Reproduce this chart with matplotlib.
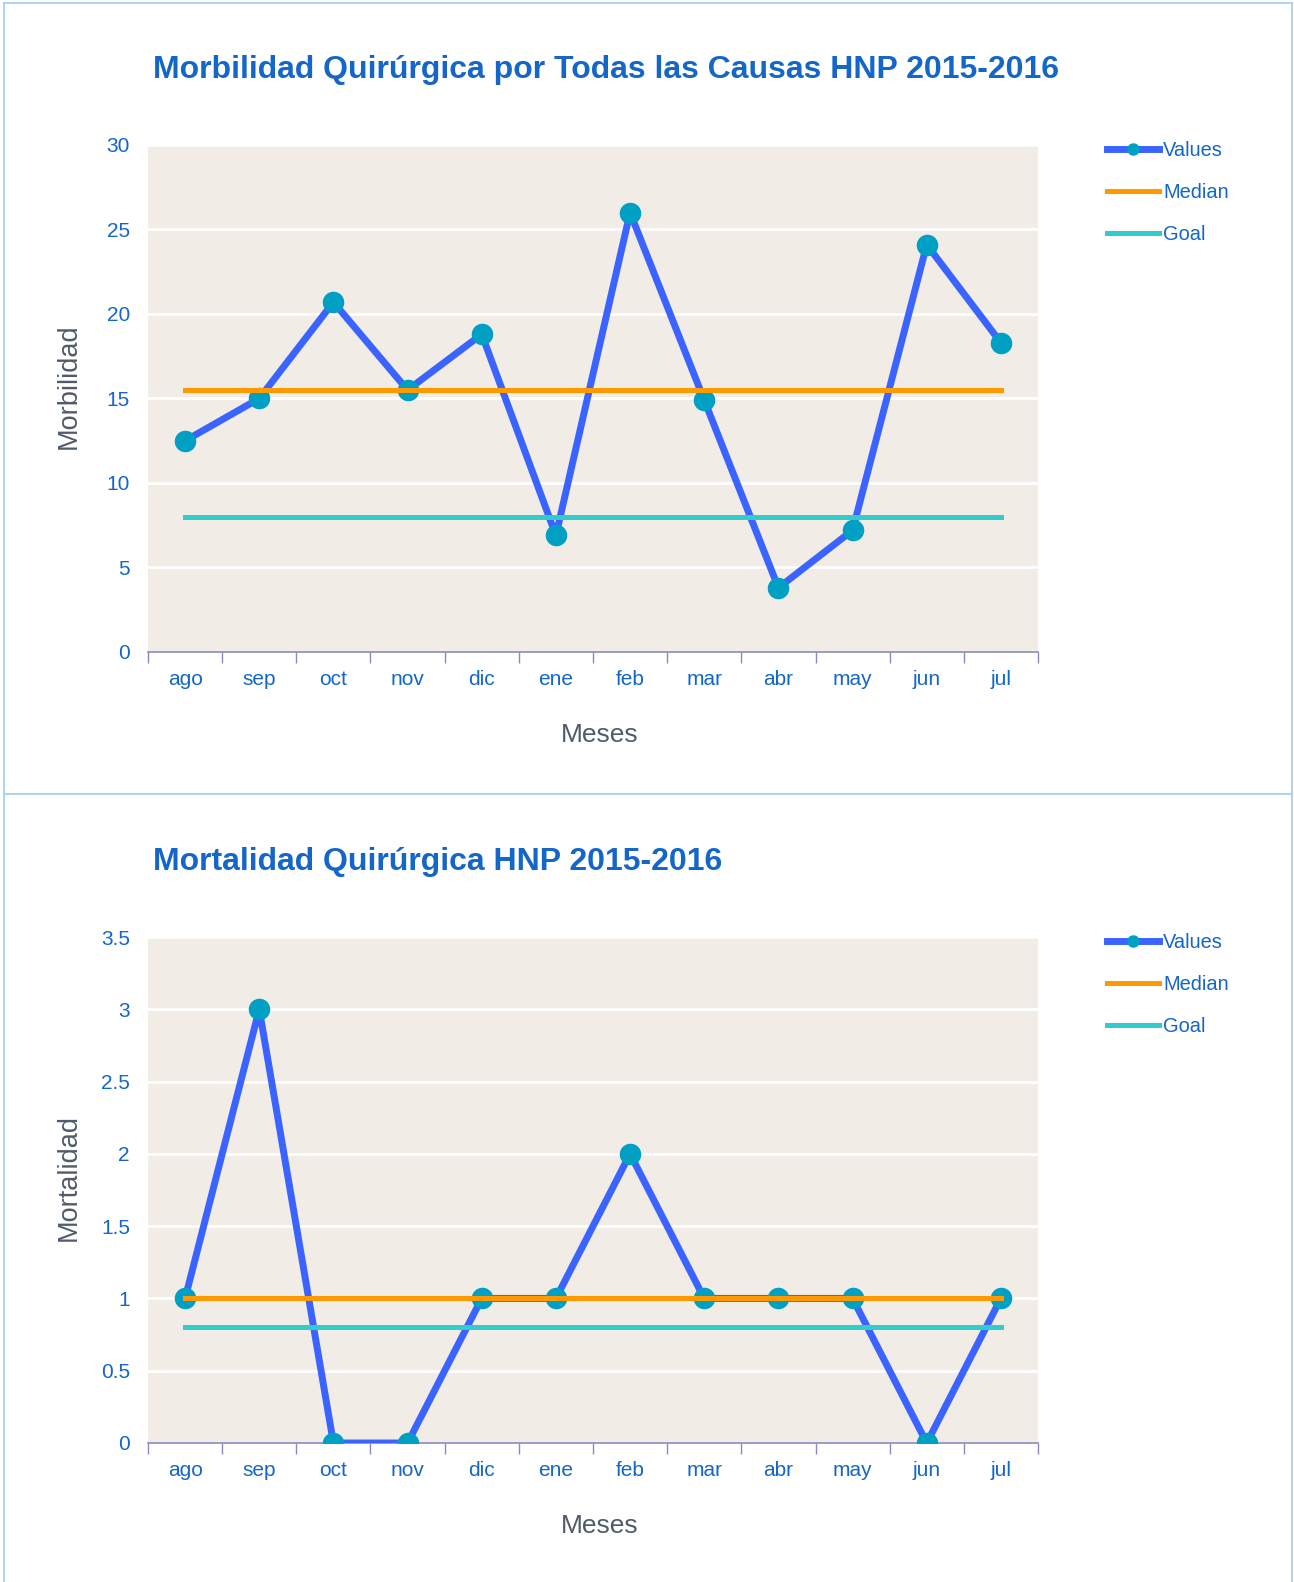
import matplotlib
matplotlib.use('Agg')
import matplotlib.pyplot as plt
from matplotlib.lines import Line2D

plt.rcParams['font.family'] = ['Liberation Sans', 'DejaVu Sans']

# data
meses = ['ago', 'sep', 'oct', 'nov', 'dic', 'ene', 'feb', 'mar', 'abr', 'may', 'jun', 'jul']
morbilidad = [12.5, 15.0, 20.7, 15.5, 18.8, 6.9, 26.0, 14.9, 3.8, 7.2, 24.1, 18.3]
morb_median = 15.5
morb_goal = 8.0
mortalidad = [1, 3, 0, 0, 1, 1, 2, 1, 1, 1, 0, 1]
mort_median = 1.0
mort_goal = 0.8

W, H = 1294, 1582
blue_txt = '#1466C8'
gray_txt = '#4F5B6B'
c_values = '#3B63FF'
c_marker = '#00A0C4'
c_median = '#FF9900'
c_goal = '#33CCCC'

fig = plt.figure(figsize=(W / 100, H / 100), dpi=100)


def px_ax(x0, y0, x1, y1):
    return fig.add_axes([x0 / W, 1 - y1 / H, (x1 - x0) / W, (y1 - y0) / H])


def draw_panel(ax, vals, median, goal, ymax, ystep, ylabel, title, title_y):
    x = list(range(len(meses)))
    ax.set_facecolor('#F1ECE6')
    ax.plot(x, vals, color=c_values, lw=5, marker='o', ms=14.5,
            mfc=c_marker, mec=c_marker, label='Values', zorder=3)
    ax.plot(x, [median] * len(x), color=c_median, lw=3.6, label='Median', zorder=4)
    ax.plot(x, [goal] * len(x), color=c_goal, lw=3.6, label='Goal', zorder=5)

    ax.set_xlim(-0.5, len(meses) - 0.5)
    ax.set_ylim(0, ymax)
    yt = [i * ystep for i in range(int(round(ymax / ystep)) + 1)]
    ax.set_yticks(yt)
    ax.set_yticklabels(['%g' % v for v in yt])
    ax.yaxis.grid(True, color='white', lw=2)
    ax.set_axisbelow(True)

    ax.set_xticks([i - 0.5 for i in range(len(meses) + 1)])
    ax.set_xticklabels([])
    ax.set_xticks(x, minor=True)
    ax.set_xticklabels(meses, minor=True)
    ax.tick_params(axis='x', which='major', length=8, color='#8A8AC0', width=1)
    ax.tick_params(axis='x', which='minor', length=0, pad=13, labelsize=15,
                   labelcolor=blue_txt)
    ax.tick_params(axis='y', length=0, pad=13, labelsize=15, labelcolor=blue_txt)

    for s in ['top', 'right', 'left']:
        ax.spines[s].set_visible(False)
    ax.spines['bottom'].set_color('#8A8AC0')
    ax.spines['bottom'].set_linewidth(1.2)

    ax.set_xlabel('Meses', fontsize=19, color=gray_txt)
    ax.xaxis.set_label_coords(0.508, -0.14)
    ax.set_ylabel(ylabel, fontsize=19.5, color=gray_txt)
    ax.yaxis.set_label_coords(-0.074, 0.525)

    fig.text(153 / W, 1 - title_y / H, title, fontsize=23, fontweight='bold',
             color=blue_txt, ha='left', va='center')

    leg = ax.legend(loc='upper left', bbox_to_anchor=(1107 / W, 1 - (title_y + 71) / H),
                    bbox_transform=fig.transFigure, frameon=False, fontsize=14.4,
                    handlelength=2.6, handletextpad=0.2, labelspacing=1.15,
                    markerscale=0.55, borderaxespad=0, borderpad=0)
    for t in leg.get_texts():
        t.set_color(blue_txt)


ax1 = px_ax(148, 145, 1038, 652)
draw_panel(ax1, morbilidad, morb_median, morb_goal, 30, 5, 'Morbilidad',
           'Morbilidad Quirúrgica por Todas las Causas HNP 2015-2016', 70)

ax2 = px_ax(148, 937, 1038, 1443)
draw_panel(ax2, mortalidad, mort_median, mort_goal, 3.5, 0.5, 'Mortalidad',
           'Mortalidad Quirúrgica HNP 2015-2016', 862)

# panel borders
bc = '#A9CFF2'
for xs, ys in [([4, 1292], [3, 3]), ([4, 4], [3, H]), ([1292, 1292], [3, H]),
               ([4, 1292], [794, 794])]:
    fig.add_artist(Line2D([v / W for v in xs], [1 - v / H for v in ys],
                          color=bc, lw=1.3))

fig.savefig('out.png', dpi=100)
